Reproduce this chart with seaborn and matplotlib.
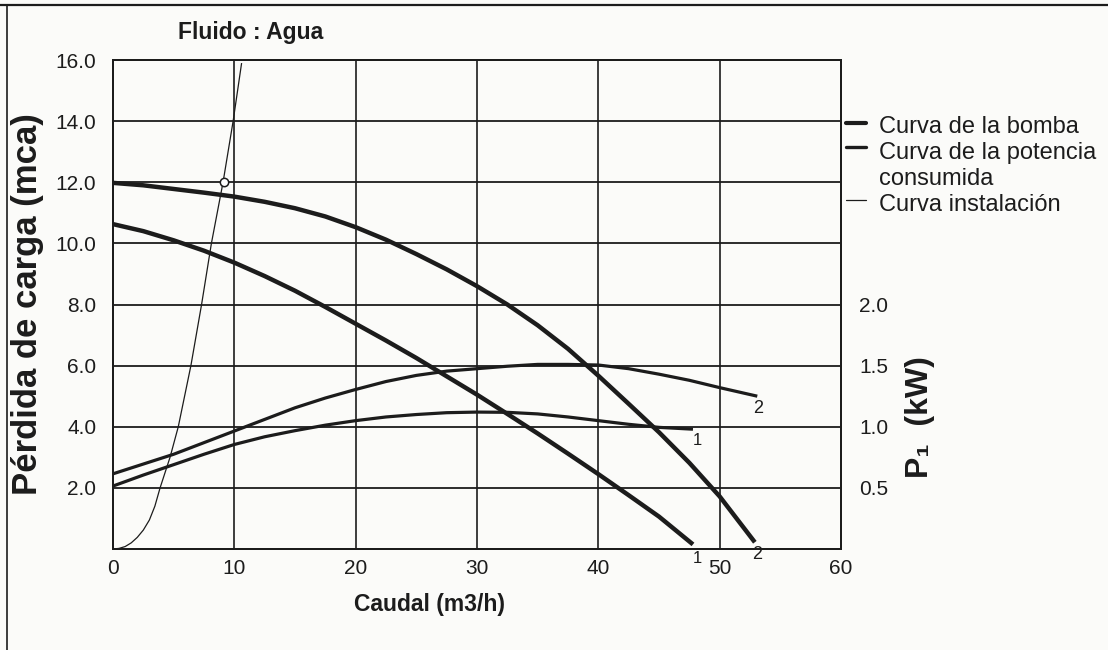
import numpy as np
import pandas as pd
import matplotlib
matplotlib.use("Agg")
import matplotlib.pyplot as plt
from matplotlib.lines import Line2D
import seaborn as sns

# curve data (caudal m3/h -> mca / kW)
pump2_q = [0, 2.5, 5, 7.5, 10, 12.5, 15, 17.5, 20, 22.5, 25, 27.5, 30,
           32.5, 35, 37.5, 40, 42.5, 45, 47.5, 50, 52.9]
pump2_h = [11.98, 11.9, 11.78, 11.66, 11.53, 11.36, 11.15, 10.88, 10.53, 10.12, 9.65, 9.15, 8.6,
           8.0, 7.32, 6.55, 5.67, 4.75, 3.82, 2.82, 1.72, 0.22]

pump1_q = [0, 2.5, 5, 7.5, 10, 12.5, 15, 17.5, 20, 22.5, 25, 27.5, 30,
           32.5, 35, 37.5, 40, 42.5, 45, 47.8]
pump1_h = [10.63, 10.4, 10.1, 9.76, 9.37, 8.93, 8.45, 7.92, 7.37, 6.82, 6.25, 5.65, 5.05,
           4.42, 3.78, 3.12, 2.45, 1.76, 1.06, 0.15]

power2_q = [0, 2.5, 5, 7.5, 10, 12.5, 15, 17.5, 20, 22.5, 25, 27.5, 30,
            32.5, 35, 37.5, 40, 42.5, 45, 47.5, 50, 53.1]
power2_kw = [0.615, 0.695, 0.775, 0.87, 0.965, 1.06, 1.155, 1.235, 1.305, 1.37, 1.42, 1.455, 1.475,
             1.495, 1.51, 1.51, 1.505, 1.475, 1.43, 1.38, 1.32, 1.25]

power1_q = [0, 2.5, 5, 7.5, 10, 12.5, 15, 17.5, 20, 22.5, 25, 27.5, 30,
            32.5, 35, 37.5, 40, 42.5, 45, 47.8]
power1_kw = [0.515, 0.605, 0.69, 0.775, 0.855, 0.918, 0.968, 1.013, 1.05, 1.08, 1.10, 1.115, 1.12,
             1.118, 1.105, 1.08, 1.05, 1.02, 0.995, 0.98]

inst_q = [0, 0.5, 1, 1.5, 2, 2.5, 3, 3.45, 3.88, 4.7, 5.38, 6.42, 7.3, 8.11, 9.07, 9.9, 10.6]
inst_h = [0, 0.02, 0.08, 0.2, 0.38, 0.62, 0.95, 1.4, 2.0, 3.0, 4.0, 6.0, 8.0, 10.0, 12.0, 14.0, 15.9]

op_point = (9.15, 12.0)

x_ticks = [0, 10, 20, 30, 40, 50, 60]
h_ticks = [2, 4, 6, 8, 10, 12, 14, 16]
kw_ticks = [0.5, 1.0, 1.5, 2.0]

legend_labels = ["Curva de la bomba", "Curva de la potencia\nconsumida", "Curva instalación"]

sns.set_theme(style="white")
plt.rcParams["font.family"] = ["Liberation Sans", "DejaVu Sans"]

INK = "#1c1c1c"
BG = "#fbfbf9"

fig = plt.figure(figsize=(11.08, 6.5), dpi=100, facecolor=BG)
W, H = 1108, 650
ax = fig.add_axes([113 / W, 1 - 549 / H, 728 / W, 489 / H], facecolor=BG)
ax2 = ax.twinx()

# grid
for y in h_ticks:
    ax.axhline(y, color=INK, lw=1.3, zorder=1)
for x in x_ticks[1:-1]:
    ax.axvline(x, color=INK, lw=1.2, zorder=1)

def curve(axis, q, v, lw):
    df = pd.DataFrame({"q": q, "v": v})
    sns.lineplot(data=df, x="q", y="v", ax=axis, color=INK, lw=lw,
                 estimator=None, sort=False, zorder=3,
                 solid_joinstyle="round", solid_capstyle="butt")

curve(ax, pump2_q, pump2_h, 3.2)
curve(ax, pump1_q, pump1_h, 3.2)
curve(ax, inst_q, inst_h, 0.9)
curve(ax2, power2_q, power2_kw, 2.3)
curve(ax2, power1_q, power1_kw, 2.3)
ax.plot(*op_point, marker="o", ms=6, mfc="white", mec=INK, mew=1.1, zorder=5)

ax.set_xlim(0, 60)
ax.set_ylim(0, 16)
ax2.set_ylim(0, 4)
ax.set_xticks(x_ticks)
ax.set_xticklabels([str(t) for t in x_ticks])
ax.set_yticks(h_ticks)
ax.set_yticklabels([f"{t:.1f}" for t in h_ticks])
ax2.set_yticks(kw_ticks)
ax2.set_yticklabels([f"{t:.1f}" for t in kw_ticks])
ax.tick_params(axis="x", length=0, pad=7, labelsize=15, colors=INK)
ax.tick_params(axis="y", length=0, pad=12, labelsize=15, colors=INK)
ax2.tick_params(axis="y", length=0, pad=13, labelsize=15, colors=INK)
ax.set_xlabel("")
ax.set_ylabel("")
ax2.set_ylabel("")
for a in (ax, ax2):
    for s in a.spines.values():
        s.set_color(INK)
        s.set_linewidth(1.4)

# curve numbers
ax.text(48.2, -0.05, "1", fontsize=12, ha="center", va="top", color=INK, clip_on=False)
ax.text(53.1, 0.1, "2", fontsize=13, ha="center", va="top", color=INK, clip_on=False)
ax2.text(53.2, 1.22, "2", fontsize=13, ha="center", va="top", color=INK)
ax2.text(48.2, 0.95, "1", fontsize=12, ha="center", va="top", color=INK)

# titles and axis labels
fig.text(251 / W, 1 - 33 / H, "Fluido : Agua", fontsize=16.5, fontweight="bold",
         ha="center", va="center", color=INK)
fig.text(430 / W, 1 - 605 / H, "Caudal (m3/h)", fontsize=16.5, fontweight="bold",
         ha="center", va="center", color=INK)
fig.text(28 / W, 1 - 304 / H, "Pérdida de carga (mca)", fontsize=25, fontweight="bold",
         rotation=90, ha="center", va="center", color=INK)
fig.text(920 / W, 1 - 417 / H, "P₁  (kW)", fontsize=23, fontweight="bold",
         rotation=90, ha="center", va="center", color=INK)

# legend
leg_y = [123, 147, 200]
leg_lw = [3.0, 2.4, 0.9]
text_y = [127, 166, 205]
for ly, lw, ty, lab in zip(leg_y, leg_lw, text_y, legend_labels):
    fig.add_artist(Line2D([846 / W, 866 / W], [1 - ly / H, 1 - ly / H], color=INK, lw=lw))
    fig.text(879 / W, 1 - ty / H, lab, fontsize=17, ha="left", va="center",
             color=INK, linespacing=1.2)

# page frame
fig.add_artist(Line2D([0, 1], [1 - 5 / H, 1 - 5 / H], color=INK, lw=1.6))
fig.add_artist(Line2D([7 / W, 7 / W], [0, 1 - 5 / H], color=INK, lw=1.2))

fig.savefig("out.png", dpi=100, facecolor=BG)
